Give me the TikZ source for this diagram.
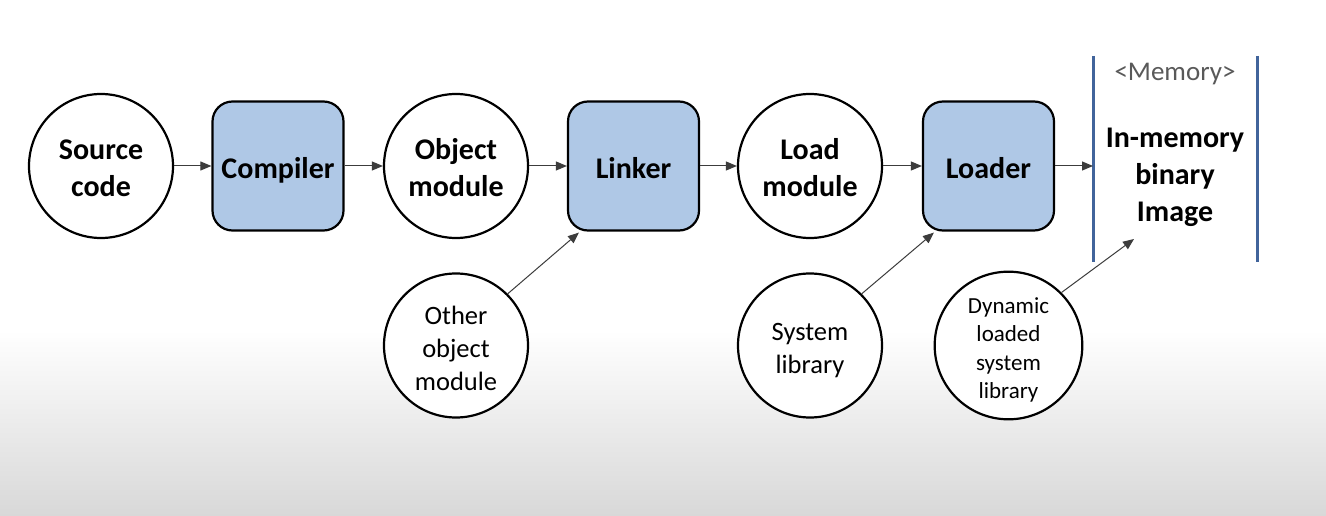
\documentclass[tikz,border=0pt]{standalone}
\usepackage{fontspec}
\setmainfont{Carlito}
\usetikzlibrary{arrows.meta}
\definecolor{boxblue}{RGB}{175,200,230}
\definecolor{memblue}{RGB}{65,100,155}
\definecolor{memgray}{RGB}{89,89,89}
\definecolor{bggray}{RGB}{216,216,216}
\definecolor{arrgray}{RGB}{60,60,60}
\newcommand{\lowtext}[1]{\raisebox{0pt}[\dimexpr\height+10pt\relax][\depth]{\begin{tabular}{@{}c@{}}#1\end{tabular}}}
\begin{document}
\begin{tikzpicture}[x=1pt,y=-1pt,
  bigfont/.style={font=\fontsize{30}{37}\selectfont\bfseries},
  smallfont/.style={font=\fontsize{26.5}{33}\selectfont},
  dynfont/.style={font=\fontsize{23}{28.5}\selectfont},
  circ/.style={circle, draw=black, line width=2.2pt, fill=white, minimum size=144pt, inner sep=0pt, align=center},
  proc/.style={draw=black, line width=2.2pt, fill=boxblue, rounded corners=20pt, minimum width=131pt, minimum height=129pt, inner sep=0pt, align=center, bigfont},
  arr/.style={draw=arrgray, line width=1pt, -{Triangle[length=11pt,width=9pt]}},
  memline/.style={draw=memblue, line width=3pt}
]
\useasboundingbox (0,0) rectangle (1326,516);
\fill[white] (0,0) rectangle (1326,330);
\shade[top color=white, bottom color=bggray] (0,330) rectangle (1326,516);

% top row
\node[circ,bigfont] (src) at (101,166) {\lowtext{Source\\code}};
\node[proc] (comp) at (278,166) {\lowtext{Compiler}};
\node[circ,bigfont] (obj) at (456,166) {\lowtext{Object\\module}};
\node[proc] (link) at (633.5,166) {\lowtext{Linker}};
\node[circ,bigfont] (load) at (810,166) {\lowtext{Load\\module}};
\node[proc] (loader) at (988.5,166) {\lowtext{Loader}};

% memory region
\draw[memline] (1093,56) -- (1093,262);
\draw[memline] (1257,56) -- (1257,262);
\node[font=\fontsize{27}{33}\selectfont, text=memgray] (memlbl) at (1175,74) {<Memory>};
\node[bigfont, align=center] (img) at (1175,177) {In-memory\\binary\\Image};
\coordinate (memin) at (1093,166);
\coordinate (dynend) at (1134,239);

% bottom row
\node[circ,smallfont] (other) at (456,345.5) {\lowtext{Other\\object\\module}};
\node[circ,smallfont] (sys) at (810,345.5) {\lowtext{System\\library}};
\node[circ,dynfont] (dyn) at (1008.5,345.5) {\lowtext{Dynamic\\loaded\\system\\library}};

% connectors
\draw[arr] (src) -- (comp);
\draw[arr] (comp) -- (obj);
\draw[arr] (obj) -- (link);
\draw[arr] (link) -- (load);
\draw[arr] (load) -- (loader);
\draw[arr] (loader) -- (memin);
\draw[arr] (other.45) -- ([xshift=12pt,yshift=-1pt]link.south west);
\draw[arr] (sys.45) -- ([xshift=12pt,yshift=-1pt]loader.south west);
\draw[arr] (dyn.45) -- (dynend);
\end{tikzpicture}
\end{document}
